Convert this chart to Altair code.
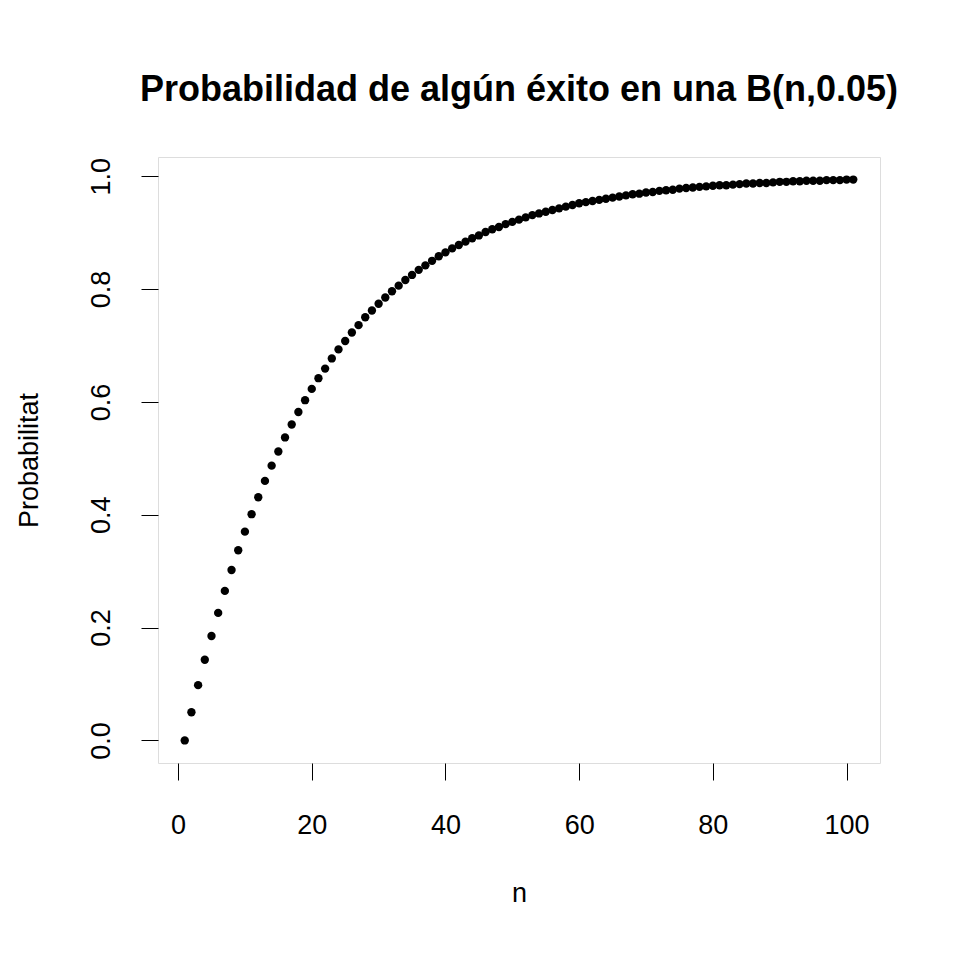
import altair as alt
import pandas as pd

n_vals = list(range(1, 102))
prob = [0.000,0.050,0.098,0.143,0.185,0.226,0.265,0.302,0.337,0.370,
0.401,0.431,0.460,0.487,0.512,0.537,0.560,0.582,0.603,0.623,
0.642,0.659,0.677,0.693,0.708,0.723,0.736,0.750,0.762,0.774,
0.785,0.796,0.806,0.816,0.825,0.834,0.842,0.850,0.858,0.865,
0.872,0.878,0.884,0.890,0.895,0.901,0.906,0.910,0.915,0.919,
0.923,0.927,0.931,0.934,0.937,0.940,0.943,0.946,0.949,0.952,
0.954,0.956,0.958,0.960,0.962,0.964,0.966,0.968,0.969,0.971,
0.972,0.974,0.975,0.976,0.978,0.979,0.980,0.981,0.982,0.983,
0.984,0.984,0.985,0.986,0.987,0.987,0.988,0.988,0.989,0.990,
0.990,0.991,0.991,0.992,0.992,0.992,0.993,0.993,0.993,0.994,0.994]

df = pd.DataFrame({"n": n_vals, "p": prob})
F = "Liberation Sans"
FS = 27

chart = alt.Chart(df).mark_circle(size=70, color="black", opacity=1).encode(
    x=alt.X("n:Q", scale=alt.Scale(domain=[-3, 105], nice=False, zero=False),
            axis=alt.Axis(values=[0, 20, 40, 60, 80, 100], title="n", grid=False,
                          domain=False, tickSize=17, tickColor="black", labelPadding=32,
                          titlePadding=42, labelFontSize=FS, titleFontSize=FS,
                          labelFont=F, titleFont=F, titleFontWeight="normal",
                          labelColor="black", titleColor="black", format=".0f")),
    y=alt.Y("p:Q", scale=alt.Scale(domain=[-0.04, 1.034], nice=False, zero=False),
            axis=alt.Axis(values=[0, 0.2, 0.4, 0.6, 0.8, 1.0], title="Probabilitat", grid=False,
                          domain=False, tickSize=17, tickColor="black", labelPadding=26,
                          labelAngle=270, labelAlign="center", labelBaseline="bottom",
                          titlePadding=44, labelFontSize=FS, titleFontSize=FS,
                          labelFont=F, titleFont=F, titleFontWeight="normal",
                          labelColor="black", titleColor="black", format=".1f")),
).properties(
    width=722, height=606,
    title=alt.TitleParams("Probabilidad de algún éxito en una B(n,0.05)", fontSize=36,
                          font=F, fontWeight="bold", offset=48, color="black"),
    autosize=alt.AutoSizeParams(type="none"),
    padding={"left": 150, "top": 149, "right": 60, "bottom": 180},
).configure_view(stroke="black", strokeWidth=1.5).configure(background="white")

chart.save("out.html", embed_options={"renderer": "svg", "actions": False})
